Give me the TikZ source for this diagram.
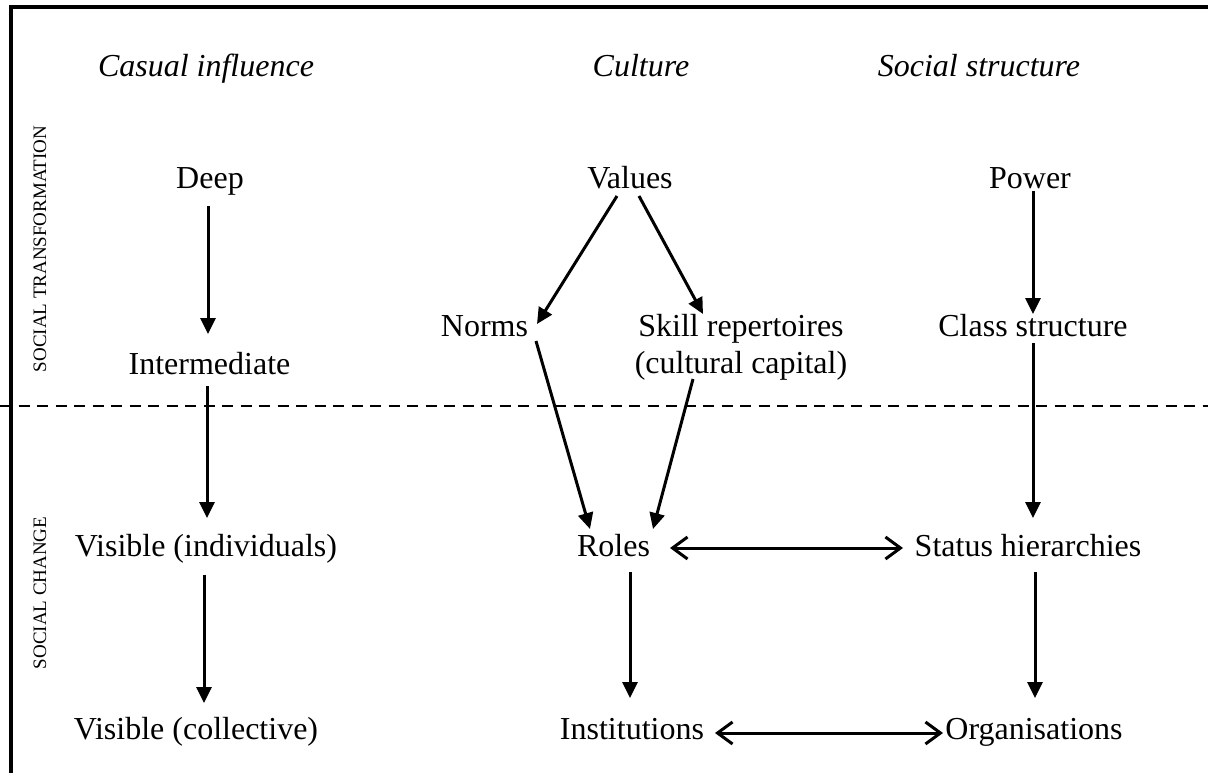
\documentclass[tikz,border=0pt]{standalone}
\usepackage{fontspec}
\setmainfont{Liberation Serif}
\usetikzlibrary{arrows.meta,calc}
\begin{document}
\begin{tikzpicture}[x=1pt,y=-1pt,
  lbl/.style={inner sep=0pt,anchor=base,font=\fontsize{32}{38}\selectfont},
  hdr/.style={inner sep=0pt,anchor=base,font=\fontsize{32}{38}\selectfont\itshape},
  side/.style={inner sep=0pt,rotate=90,font=\fontsize{19}{21}\selectfont},
  arr/.style={line width=3pt,-{Triangle[length=16pt,width=15pt]}},
  dbl/.style={line width=3pt,{Straight Barb[length=15pt,width=22pt,line width=3pt]}-{Straight Barb[length=15pt,width=22pt,line width=3pt]}},
  frame/.style={line width=3.2pt}]
\useasboundingbox (0,0) rectangle (1208,773);
% frame
\coordinate (tl) at (11,7);
\coordinate (tr) at (1208,7);
\coordinate (bl) at (11,773);
\draw[frame] (tr) -- (tl) -- (bl);
% dashed separator
\coordinate (dl) at (0,406);
\coordinate (dr) at (1208,406);
\draw[line width=2.7pt,dash pattern=on 11pt off 7.5pt] (dl) -- (dr);
% side labels
\node[side] (st) at (40,249) {SOCIAL TRANSFORMATION};
\node[side] (sc) at (40,593) {SOCIAL CHANGE};
% headers
\node[hdr] (h1) at (206,77) {Casual influence};
\node[hdr] (h2) at (641,77) {Culture};
\node[hdr] (h3) at (979,77) {Social structure};
% nodes
\node[lbl] (deep) at (210,189) {Deep};
\node[lbl] (values) at (630,189) {Values};
\node[lbl] (power) at (1030,189) {Power};
\node[lbl] (norms) at (484.5,336) {Norms};
\node[lbl] (skill) at (741,336) {Skill repertoires};
\node[lbl] (cap) at (741,373) {(cultural capital)};
\node[lbl] (class) at (1033,336) {Class structure};
\node[lbl] (inter) at (209.5,374) {Intermediate};
\node[lbl] (visind) at (206,556) {Visible (individuals)};
\node[lbl] (roles) at (613.5,556) {Roles};
\node[lbl] (status) at (1028,556) {Status hierarchies};
\node[lbl] (viscol) at (196,739) {Visible (collective)};
\node[lbl] (inst) at (632,739) {Institutions};
\node[lbl] (org) at (1034,739) {Organisations};
% connectors
\draw[arr] ($(deep.base)+(-2,17)$) -- ($(inter.base)+(-1.5,-40)$);
\draw[arr] ($(inter.base)+(-2.5,12)$) -- ($(visind.base)+(1,-38)$);
\draw[arr] ($(visind.base)+(-2,19)$) -- ($(viscol.base)+(8,-36)$);
\draw[arr] ($(values.base)+(-13,7)$) -- ($(norms.base)+(52.5,-12)$);
\draw[arr] ($(values.base)+(9,7)$) -- ($(skill.base)+(-38,-22)$);
\draw[arr] ($(power.base)+(3,2)$) -- ($(class.base)+(0,-22)$);
\draw[arr] ($(norms.base)+(51.5,5)$) -- ($(roles.base)+(-23.5,-27)$);
\draw[arr] ($(cap.base)+(-48,6)$) -- ($(roles.base)+(39.5,-27)$);
\draw[arr] ($(class.base)+(0,7)$) -- ($(status.base)+(5,-38)$);
\draw[arr] ($(roles.base)+(16.5,16)$) -- ($(inst.base)+(-2,-41)$);
\draw[arr] ($(status.base)+(7,16)$) -- ($(org.base)+(1,-41)$);
\draw[dbl] ($(roles.base)+(56.5,-8)$) -- ($(status.base)+(-125,-8)$);
\draw[dbl] ($(inst.base)+(83,-6)$) -- ($(org.base)+(-91,-6)$);
\end{tikzpicture}
\end{document}
